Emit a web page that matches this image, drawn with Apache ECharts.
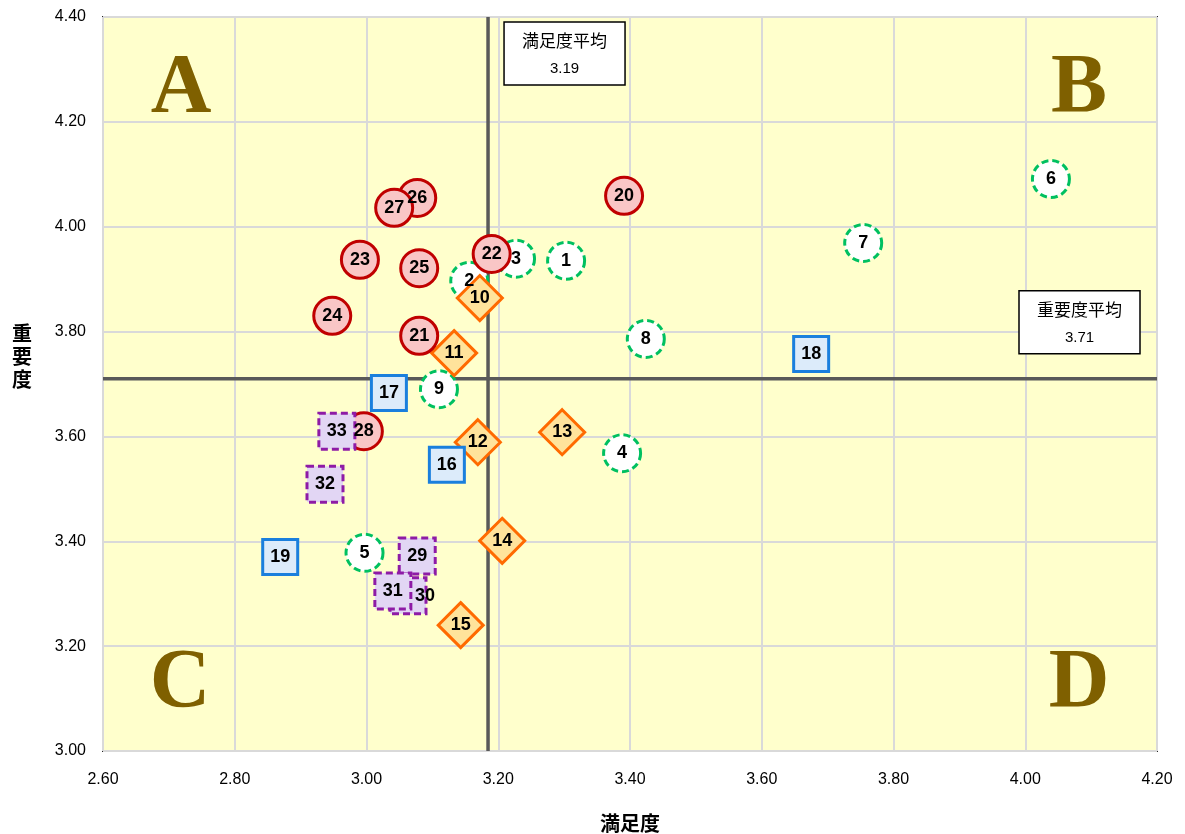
<!DOCTYPE html>
<html><head><meta charset="utf-8">
<script src="https://cdn.jsdelivr.net/npm/echarts@6/dist/echarts.min.js"></script>
<style>html,body{margin:0;padding:0;background:#fff}#c{width:1185px;height:834px}</style>
</head><body><div id="c"></div>
<script>
// Tick settings
const xMin = 2.6, xMax = 4.2, xStep = 0.2;
const yMin = 3.0, yMax = 4.4, yStep = 0.2;
const xAxisName = '満足度';
const yAxisName = '重要度';

// Averages (line positions as drawn, and their printed labels)
const avgSatisfaction = 3.1845;
const avgImportance = 3.71;
const avgSatisfactionText = '3.19';
const avgImportanceText = '3.71';
const avgSatisfactionLabel = '満足度平均';
const avgImportanceLabel = '重要度平均';

// Quadrant letters
const quadrantLetters = ['A', 'B', 'C', 'D'];

// Group 1 (green dashed circles)
const greenIds = [1, 2, 3, 4, 5, 6, 7, 8, 9];
const greenX = [3.303, 3.156, 3.227, 3.388, 2.997, 4.039, 3.754, 3.424, 3.110];
const greenY = [3.935, 3.897, 3.939, 3.568, 3.378, 4.091, 3.969, 3.786, 3.690];

// Group 2 (orange diamonds)
const orangeIds = [10, 11, 12, 13, 14, 15];
const orangeX = [3.172, 3.133, 3.169, 3.297, 3.206, 3.143];
const orangeY = [3.864, 3.759, 3.589, 3.608, 3.401, 3.240];

// Group 3 (blue squares)
const blueIds = [16, 17, 18, 19];
const blueX = [3.122, 3.034, 3.675, 2.869];
const blueY = [3.546, 3.683, 3.757, 3.370];

// Group 4 (red circles)
const redIds = [20, 21, 22, 23, 24, 25, 26, 27, 28];
const redX = [3.391, 3.080, 3.190, 2.990, 2.948, 3.080, 3.077, 3.042, 2.996];
const redY = [4.059, 3.792, 3.948, 3.937, 3.830, 3.921, 4.055, 4.036, 3.610];

// Group 5 (purple dashed squares)
const purpleIds = [29, 30, 31, 32, 33];
const purpleX = [3.077, 3.063, 3.040, 2.937, 2.955];
const purpleY = [3.372, 3.296, 3.305, 3.509, 3.610];

function build(ids, xs, ys) { return ids.map((id, i) => [xs[i], ys[i], id]); }

const labelStyle = { show: true, formatter: p => p.value[2], color: '#000', fontWeight: 'bold', fontSize: 18, fontFamily: 'Liberation Sans, Arial, sans-serif' };

const chart = echarts.init(document.getElementById('c'), null, { renderer: 'canvas' });

const purpleData = build(purpleIds, purpleX, purpleY).map(d => d[2] === 30 ? { value: d, label: { offset: [17, 0] } } : d);

const avgLineStyle = { color: '#595959', width: 3.5, type: 'solid' };

const option = {
  animation: false,
  grid: { left: 103, right: 28, top: 17, bottom: 83, containLabel: false, outerBoundsMode: 'none', show: true, backgroundColor: '#FFFFCC', borderColor: '#262626', borderWidth: 2 },
  xAxis: {
    type: 'value', min: xMin, max: xMax, interval: xStep,
    name: xAxisName, nameLocation: 'middle', nameGap: 62,
    nameTextStyle: { fontSize: 20, fontWeight: 'bold', color: '#000', fontFamily: 'Noto Sans CJK JP' },
    axisLine: { show: false }, axisTick: { show: false },
    axisLabel: { formatter: v => v.toFixed(2), fontSize: 16, color: '#000', margin: 21, fontFamily: 'Liberation Sans, Arial, sans-serif' },
    splitLine: { show: true, lineStyle: { color: '#D9D9D9', width: 2 } }
  },
  yAxis: {
    type: 'value', min: yMin, max: yMax, interval: yStep,
    axisLine: { show: false }, axisTick: { show: false },
    axisLabel: { formatter: v => v.toFixed(2), fontSize: 16, color: '#000', margin: 17, fontFamily: 'Liberation Sans, Arial, sans-serif' },
    splitLine: { show: true, lineStyle: { color: '#D9D9D9', width: 2 } }
  },
  series: [
    {
      type: 'line', silent: true, symbol: 'none', lineStyle: avgLineStyle, z: 1,
      data: [[avgSatisfaction, yMin], [avgSatisfaction, yMax]]
    },
    {
      type: 'line', silent: true, symbol: 'none', lineStyle: avgLineStyle, z: 1,
      data: [[xMin, avgImportance], [xMax, avgImportance]]
    },
    {
      type: 'scatter', symbol: 'circle', symbolSize: 37, z: 2,
      itemStyle: { color: '#FFFFFF', borderColor: '#00C060', borderWidth: 3, borderType: [7, 4], opacity: 1 },
      label: labelStyle, data: build(greenIds, greenX, greenY)
    },
    {
      type: 'scatter', symbol: 'diamond', symbolSize: [45, 45], z: 2,
      itemStyle: { color: '#FFE39B', borderColor: '#FF6A00', borderWidth: 3, opacity: 1 },
      label: labelStyle, data: build(orangeIds, orangeX, orangeY)
    },
    {
      type: 'scatter', symbol: 'rect', symbolSize: 35, z: 2,
      itemStyle: { color: '#DCEBFA', borderColor: '#1A7FDD', borderWidth: 3, opacity: 1 },
      label: labelStyle, data: build(blueIds, blueX, blueY)
    },
    {
      type: 'scatter', symbol: 'circle', symbolSize: 37, z: 2,
      itemStyle: { color: '#F9C6C6', borderColor: '#C00000', borderWidth: 3, opacity: 1 },
      label: labelStyle, data: build(redIds, redX, redY)
    },
    {
      type: 'scatter', symbol: 'rect', symbolSize: 36, z: 2,
      itemStyle: { color: '#E2D6F4', borderColor: '#8E1BA6', borderWidth: 3, borderType: [7, 4], opacity: 1 },
      label: labelStyle, data: purpleData
    }
  ],
  graphic: []
};
chart.setOption(option);

// Reference boxes and quadrant letters placed relative to the data coordinate system
const boxW = 121, boxH = 63;
const pA = chart.convertToPixel({ gridIndex: 0 }, [avgSatisfaction, yMax]);
const pB = chart.convertToPixel({ gridIndex: 0 }, [xMax, avgImportance]);
const box1 = { x: pA[0] + 16, y: pA[1] + 5 };
const box2 = { x: pB[0] - 138, y: pB[1] - 88 };
function boxGraphic(b, title, val) {
  return {
    type: 'group', x: b.x, y: b.y, z: 100, children: [
      { type: 'rect', z: 100, shape: { x: 0, y: 0, width: boxW, height: boxH }, style: { fill: '#fff', stroke: '#000', lineWidth: 1.5 } },
      { type: 'text', z: 101, x: boxW / 2, y: 19, style: { text: title, font: '17px "Noto Sans CJK JP"', fill: '#000', textAlign: 'center', textVerticalAlign: 'middle' } },
      { type: 'text', z: 101, x: boxW / 2, y: 47, style: { text: val, font: '15px "Liberation Sans", Arial', fill: '#000', textAlign: 'center', textVerticalAlign: 'middle' } }
    ]
  };
}
const tl = chart.convertToPixel({ gridIndex: 0 }, [xMin, yMax]);
const br = chart.convertToPixel({ gridIndex: 0 }, [xMax, yMin]);
const letterPos = [[tl[0] + 78, tl[1] + 73], [br[0] - 78, tl[1] + 73], [tl[0] + 77, br[1] - 66], [br[0] - 78, br[1] - 66]];
const graphics = [
  boxGraphic(box1, avgSatisfactionLabel, avgSatisfactionText),
  boxGraphic(box2, avgImportanceLabel, avgImportanceText),
  { type: 'text', x: tl[0] - 81, y: 356, style: { text: yAxisName.split('').join('\n'), font: 'bold 20px "Noto Sans CJK JP"', lineHeight: 23, fill: '#000', textAlign: 'center', textVerticalAlign: 'middle' } }
];
quadrantLetters.forEach((L, i) => {
  graphics.push({ type: 'text', x: letterPos[i][0], y: letterPos[i][1], z: 1, style: { text: L, font: 'bold 84px "Liberation Serif", "DejaVu Serif", serif', fill: '#7F6000', textAlign: 'center', textVerticalAlign: 'middle' } });
});
chart.setOption({ graphic: graphics });
</script>
</body></html>
